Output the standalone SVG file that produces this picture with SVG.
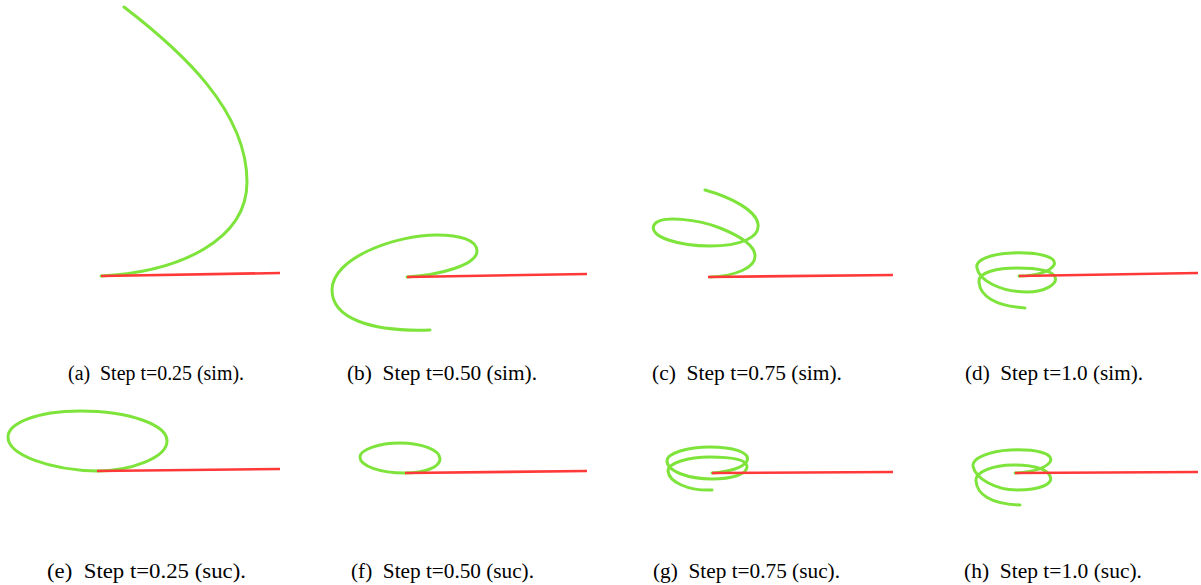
<svg xmlns="http://www.w3.org/2000/svg" width="1201" height="585" viewBox="0 0 1201 585">
<style>
.g{fill:none;stroke:#7ee43c;stroke-width:3;stroke-linecap:round;stroke-linejoin:round}
.r{fill:none;stroke:#ff3838;stroke-width:2.6;stroke-linecap:butt}
.cap{font-family:"Liberation Serif","Times New Roman",serif;font-size:20px;fill:#000}
</style>
<rect width="1201" height="585" fill="#fff"/>
<g id="a">
<path class="g" d="M101,276 C180,272 247,240 247,182 C247,110 180,50 124,7"/>
<line class="r" x1="101" y1="276" x2="280" y2="273"/>
<text class="cap" x="68" y="380" textLength="176" lengthAdjust="spacingAndGlyphs">(a)&#160; Step t=0.25 (sim).</text>
</g>
<g id="b">
<path class="g" d="M407,277 C440,275 477,265 477,251 C477,240 460,235 437,235 C395,235 332,258 332,290 C332,318 370,332 430,330"/>
<line class="r" x1="407" y1="277" x2="587" y2="274"/>
<text class="cap" x="347" y="380" textLength="190" lengthAdjust="spacingAndGlyphs">(b)&#160; Step t=0.50 (sim).</text>
</g>
<g id="c">
<path class="g" d="M710,277 C735,276 756,268 755,255 C754,245 740,236 720,228 C700,220 660,214 654,225 C648,237 680,246 710,246 C740,246 760,238 758,224 C756,210 730,197 705,190"/>
<line class="r" x1="708" y1="277" x2="893" y2="275"/>
<text class="cap" x="652" y="380" textLength="190" lengthAdjust="spacingAndGlyphs">(c)&#160; Step t=0.75 (sim).</text>
</g>
<g id="d">
<path class="g" d="M1019,276 C1035,276 1050,272 1054,265 C1058,256 1035,252 1012,253 C990,254 975,260 977,268 C979,280 1000,292 1027,292 C1045,292 1058,284 1055,277 C1052,270 1035,268 1017,268 C998,268 978,272 979,282 C980,296 995,306 1025,308"/>
<line class="r" x1="1019" y1="276" x2="1198" y2="273"/>
<text class="cap" x="965" y="380" textLength="178" lengthAdjust="spacingAndGlyphs">(d)&#160; Step t=1.0 (sim).</text>
</g>
<g id="e">
<path class="g" d="M97,471 C130,471 167,458 167,441 C167,425 130,411 80,411 C35,411 8,424 8,437 C8,455 50,470 97,471"/>
<line class="r" x1="97" y1="471" x2="280" y2="469"/>
<text class="cap" x="47" y="578" textLength="199" lengthAdjust="spacingAndGlyphs">(e)&#160; Step t=0.25 (suc).</text>
</g>
<g id="f">
<path class="g" d="M405,473 C425,473 440,467 440,459 C440,450 422,443 400,443 C378,443 360,450 360,457 C360,466 380,473 405,473"/>
<line class="r" x1="405" y1="473" x2="587" y2="471"/>
<text class="cap" x="351" y="578" textLength="183" lengthAdjust="spacingAndGlyphs">(f)&#160; Step t=0.50 (suc).</text>
</g>
<g id="g">
<path class="g" d="M712,473 C728,472 743,468 747,461 C751,452 732,447 710,447 C688,447 667,453 667,461 C667,471 688,479 712,479 C732,479 748,474 747,466 C746,459 730,457 710,457 C688,457 668,463 668,471 C669,482 688,491 712,490"/>
<line class="r" x1="712" y1="473" x2="893" y2="472"/>
<text class="cap" x="653" y="578" textLength="187" lengthAdjust="spacingAndGlyphs">(g)&#160; Step t=0.75 (suc).</text>
</g>
<g id="h">
<path class="g" d="M1015,473 C1030,472 1045,469 1050,462 C1055,453 1035,449 1010,450 C990,451 972,458 973,466 C975,478 995,490 1017,490 C1040,490 1054,484 1050,476 C1046,468 1030,465 1013,465 C993,465 975,472 976,481 C977,494 990,504 1020,505"/>
<line class="r" x1="1015" y1="473" x2="1198" y2="472"/>
<text class="cap" x="964" y="578" textLength="178" lengthAdjust="spacingAndGlyphs">(h)&#160; Step t=1.0 (suc).</text>
</g>
</svg>
